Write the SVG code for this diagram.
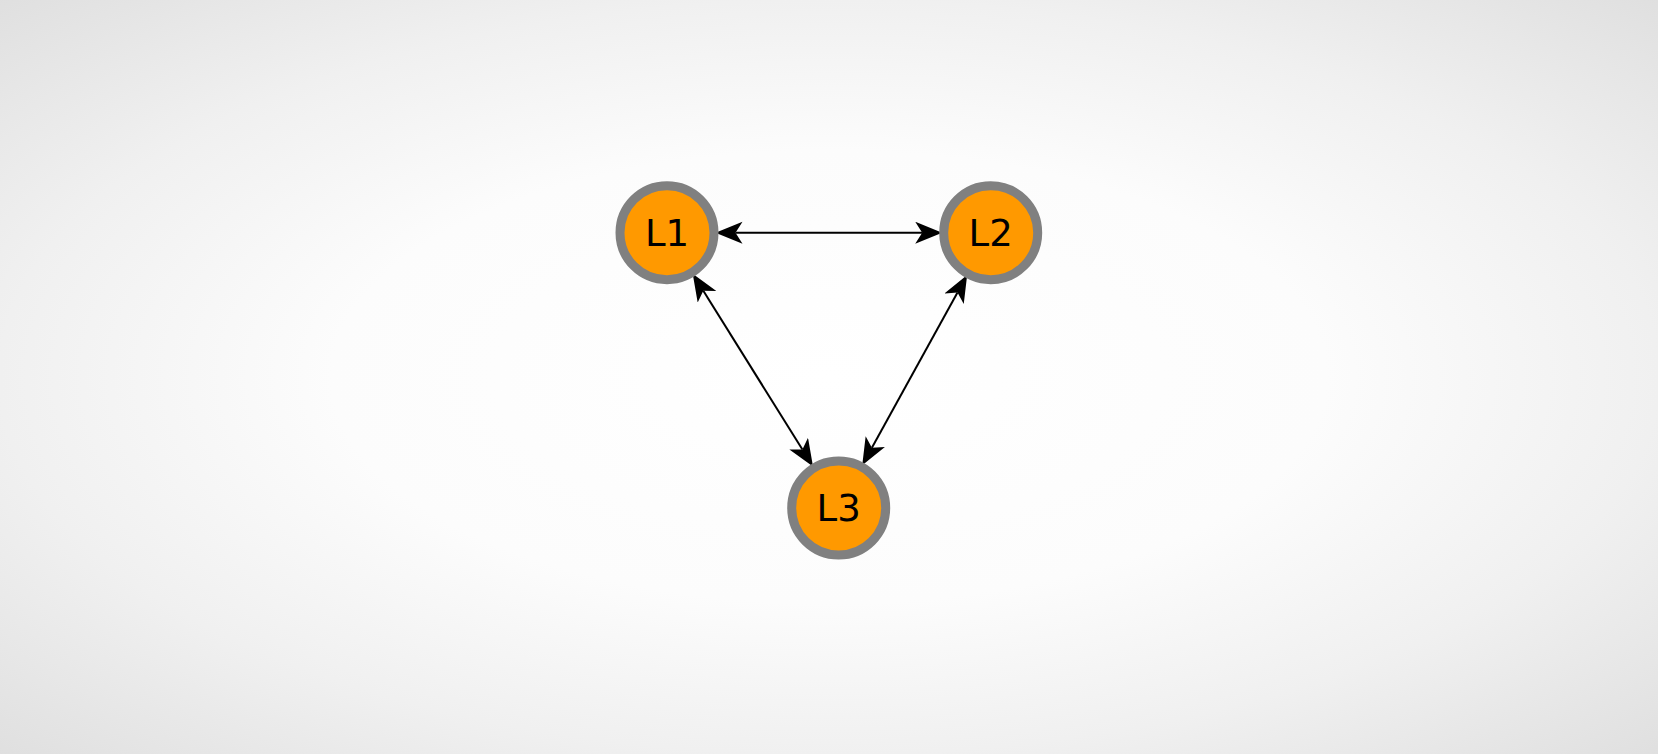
<svg xmlns="http://www.w3.org/2000/svg" width="1658" height="754" viewBox="0 0 1658 754">
  <defs>
    <radialGradient id="bg" cx="0.5" cy="0.5" r="0.75">
      <stop offset="0" stop-color="#ffffff"/>
      <stop offset="0.4" stop-color="#fcfcfc"/>
      <stop offset="0.667" stop-color="#f0f0f0"/>
      <stop offset="1" stop-color="#dcdcdc"/>
    </radialGradient>
    <marker id="arrow" markerUnits="userSpaceOnUse" markerWidth="30" markerHeight="24" refX="7" refY="11" orient="auto-start-reverse">
      <path d="M27,11 L0,0 L7,11 L0,22 Z" fill="#000000"/>
    </marker>
    <style>
      .node circle { fill: #ff9900; stroke: #808080; stroke-width: 9; }
      .node text { font-family: "DejaVu Sans", sans-serif; font-size: 37px; fill: #000000; text-anchor: middle; }
      .edge { stroke: #000000; stroke-width: 2; fill: none; marker-start: url(#arrow); marker-end: url(#arrow); }
    </style>
  </defs>
  <rect x="0" y="0" width="1658" height="754" fill="url(#bg)"/>
  <g id="connectors">
    <line class="edge" x1="735.5" y1="232.7" x2="922.2" y2="232.7"/>
    <line class="edge" x1="703.3" y1="290.8" x2="802.4" y2="449.5"/>
    <line class="edge" x1="957.5" y1="292.6" x2="871.9" y2="447.7"/>
  </g>
  <g id="L1" class="node">
    <circle cx="667" cy="232.7" r="47"/>
    <text x="667" y="246">L1</text>
  </g>
  <g id="L2" class="node">
    <circle cx="990.7" cy="232.7" r="47"/>
    <text x="990.7" y="246">L2</text>
  </g>
  <g id="L3" class="node">
    <circle cx="838.7" cy="508" r="47"/>
    <text x="838.7" y="521.3">L3</text>
  </g>
</svg>
